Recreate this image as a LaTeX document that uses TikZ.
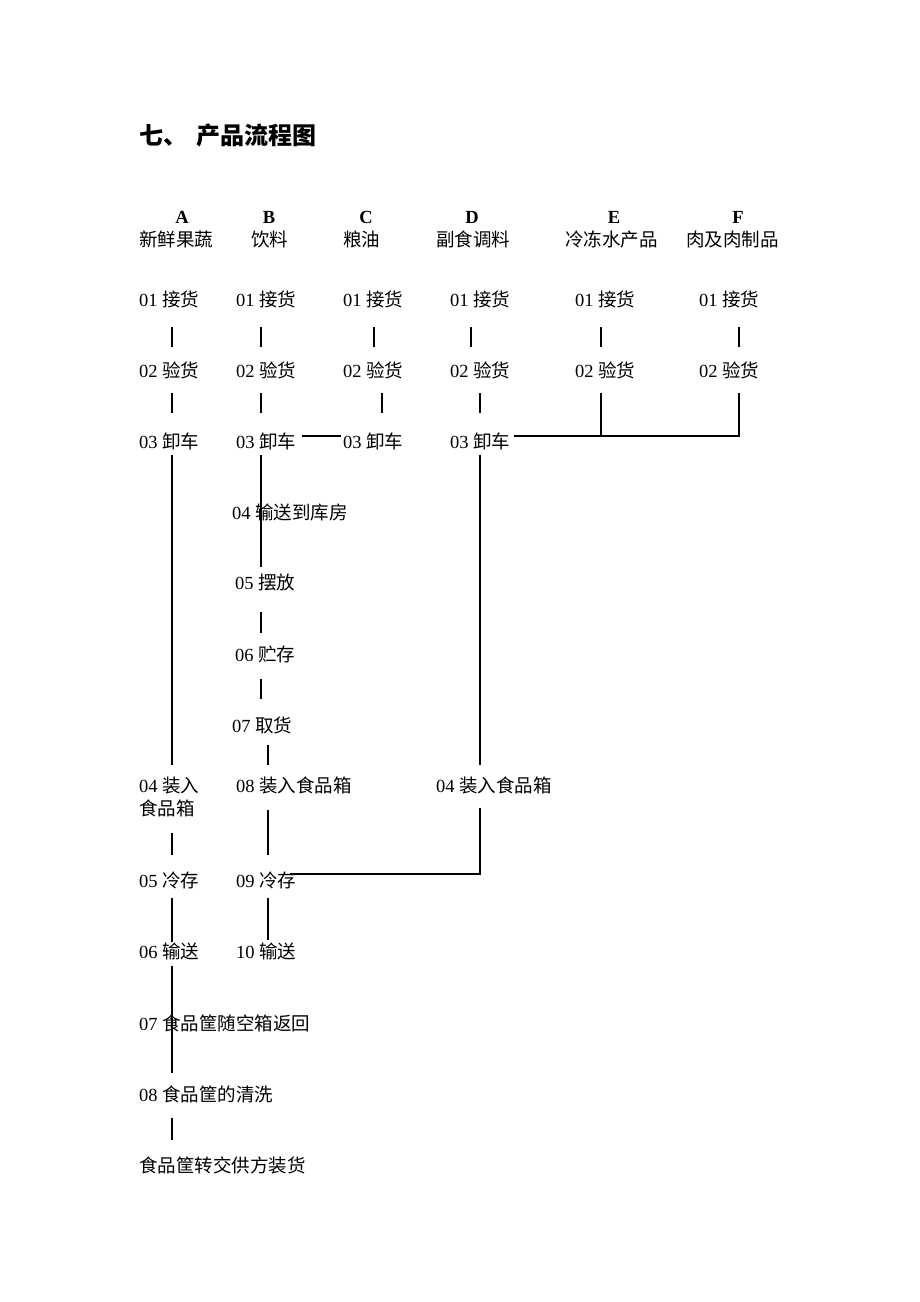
\documentclass[tikz,border=0pt]{standalone}
\usepackage{fontspec}
\setmainfont{Liberation Serif}
\newfontfamily\cjk{Noto Sans CJK SC}
\newcommand\zh[1]{{\cjk #1}}
\usetikzlibrary{calc}
\begin{document}
\begin{tikzpicture}[x=1pt,y=-1pt,
  lbl/.style={anchor=base west,inner sep=0pt,font=\fontsize{18.5}{22}\selectfont},
  head/.style={anchor=base,inner sep=0pt,font=\fontsize{18.5}{22}\selectfont\bfseries},
  ttl/.style={anchor=base west,inner sep=0pt,font=\fontsize{24}{28}\selectfont\bfseries},
  ln/.style={line width=1.3pt,black}]
\useasboundingbox[fill=white] (0,0) rectangle (920,1302);
% title
\node[ttl] (title) at (139,144) {\zh{七、}\hspace{9pt}\zh{产品流程图}};
% heads
\node[head] (hA) at (182,223) {A};
\node[head] (hB) at (269,223) {B};
\node[head] (hC) at (366,223) {C};
\node[head] (hD) at (472,223) {D};
\node[head] (hE) at (614,223) {E};
\node[head] (hF) at (738,223) {F};
\node[lbl] (cA) at (139,246) {\zh{新鲜果蔬}};
\node[lbl] (cB) at (251,246) {\zh{饮料}};
\node[lbl] (cC) at (343,246) {\zh{粮油}};
\node[lbl] (cD) at (436,246) {\zh{副食调料}};
\node[lbl] (cE) at (565,246) {\zh{冷冻水产品}};
\node[lbl] (cF) at (686,246) {\zh{肉及肉制品}};
% row 01
\node[lbl] (a01) at (139,306) {01 \zh{接货}};
\node[lbl] (b01) at (236,306) {01 \zh{接货}};
\node[lbl] (c01) at (343,306) {01 \zh{接货}};
\node[lbl] (d01) at (450,306) {01 \zh{接货}};
\node[lbl] (e01) at (575,306) {01 \zh{接货}};
\node[lbl] (f01) at (699,306) {01 \zh{接货}};
% row 02
\node[lbl] (a02) at (139,377) {02 \zh{验货}};
\node[lbl] (b02) at (236,377) {02 \zh{验货}};
\node[lbl] (c02) at (343,377) {02 \zh{验货}};
\node[lbl] (d02) at (450,377) {02 \zh{验货}};
\node[lbl] (e02) at (575,377) {02 \zh{验货}};
\node[lbl] (f02) at (699,377) {02 \zh{验货}};
% row 03
\node[lbl] (a03) at (139,448) {03 \zh{卸车}};
\node[lbl] (b03) at (236,448) {03 \zh{卸车}};
\node[lbl] (c03) at (343,448) {03 \zh{卸车}};
\node[lbl] (d03) at (450,448) {03 \zh{卸车}};
% column B
\node[lbl] (b04) at (232,519) {04 \zh{输送到库房}};
\node[lbl] (b05) at (235,589) {05 \zh{摆放}};
\node[lbl] (b06) at (235,661) {06 \zh{贮存}};
\node[lbl] (b07) at (232,732) {07 \zh{取货}};
\node[lbl] (b08) at (236,792) {08 \zh{装入食品箱}};
\node[lbl] (b09) at (236,887) {09 \zh{冷存}};
\node[lbl] (b10) at (236,958) {10 \zh{输送}};
% column A
\node[lbl] (a04) at (139,792) {04 \zh{装入}};
\node[lbl] (a04b) at (139,815) {\zh{食品箱}};
\node[lbl] (a05) at (139,887) {05 \zh{冷存}};
\node[lbl] (a06) at (139,958) {06 \zh{输送}};
\node[lbl] (a07) at (139,1030) {07 \zh{食品筐随空箱返回}};
\node[lbl] (a08) at (139,1101) {08 \zh{食品筐的清洗}};
\node[lbl] (a09) at (139,1172) {\zh{食品筐转交供方装货}};
% column D
\node[lbl] (d04) at (436,792) {04 \zh{装入食品箱}};
% ticks 01-02
\draw[ln] ($(a01.base west)+(33,21)$) -- ($(a02.base west)+(33,-30)$);
\draw[ln] ($(b01.base west)+(25,21)$) -- ($(b02.base west)+(25,-30)$);
\draw[ln] ($(c01.base west)+(31,21)$) -- ($(c02.base west)+(31,-30)$);
\draw[ln] ($(d01.base west)+(21,21)$) -- ($(d02.base west)+(21,-30)$);
\draw[ln] ($(e01.base west)+(26,21)$) -- ($(e02.base west)+(26,-30)$);
\draw[ln] ($(f01.base west)+(40,21)$) -- ($(f02.base west)+(40,-30)$);
% ticks 02-03
\draw[ln] ($(a02.base west)+(33,16)$) -- ($(a03.base west)+(33,-35)$);
\draw[ln] ($(b02.base west)+(25,16)$) -- ($(b03.base west)+(25,-35)$);
\draw[ln] ($(c02.base west)+(39,16)$) -- ($(c03.base west)+(39,-35)$);
\draw[ln] ($(d02.base west)+(30,16)$) -- ($(d03.base west)+(30,-35)$);
% E, F join D 03
\draw[ln] ($(e02.base west)+(26,16)$) -- ($(e02.base west)+(26,59)$);
\draw[ln] ($(f02.base west)+(40,16)$) -- ($(f02.base west)+(40,59)$) -- ($(d03.base east)+(3,-12)$);
% B - C
\draw[ln] ($(b03.base east)+(5,-12)$) -- ($(c03.base west)+(-2,-12)$);
% column A main
\draw[ln] ($(a03.base west)+(33,7)$) -- ($(a04.base west)+(33,-27)$);
\draw[ln] ($(a04b.base west)+(33,18)$) -- ($(a05.base west)+(33,-32)$);
\draw[ln] ($(a05.base west)+(33,11)$) -- ($(a06.base west)+(33,-16)$);
\draw[ln] ($(a06.base west)+(33,8)$) -- ($(a08.base west)+(33,-28)$);
\draw[ln] ($(a08.base west)+(33,17)$) -- ($(a09.base west)+(33,-32)$);
% column B
\draw[ln] ($(b03.base west)+(25,7)$) -- ($(b05.base west)+(26,-22)$);
\draw[ln] ($(b05.base west)+(26,23)$) -- ($(b06.base west)+(26,-28)$);
\draw[ln] ($(b06.base west)+(26,18)$) -- ($(b07.base west)+(29,-33)$);
\draw[ln] ($(b07.base west)+(36,13)$) -- ($(b08.base west)+(32,-27)$);
\draw[ln] ($(b08.base west)+(32,18)$) -- ($(b09.base west)+(32,-32)$);
\draw[ln] ($(b09.base west)+(32,11)$) -- ($(b10.base west)+(32,-18)$);
% column D
\draw[ln] ($(d03.base west)+(30,7)$) -- ($(d04.base west)+(44,-27)$);
\draw[ln] ($(d04.base west)+(44,16)$) -- ($(d04.base west)+(44,82)$) -- ($(b09.base west)+(54,-13)$);
\end{tikzpicture}
\end{document}
